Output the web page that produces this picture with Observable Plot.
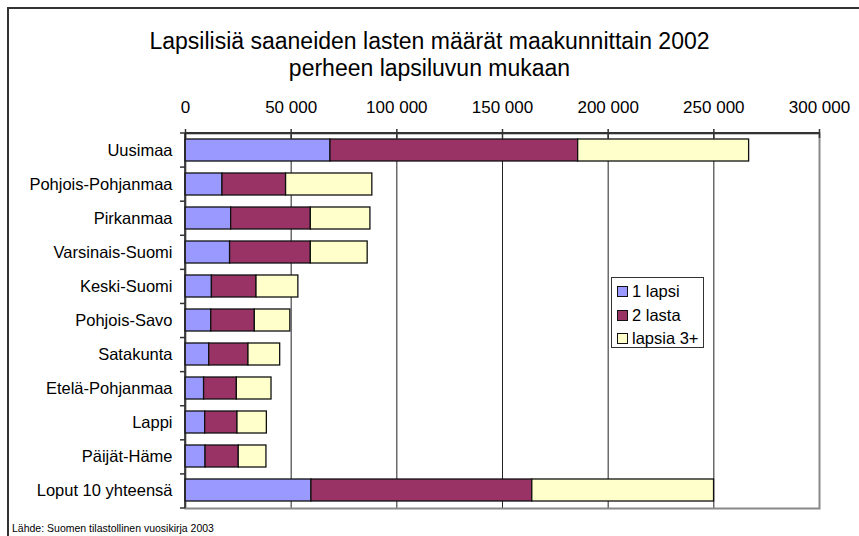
<!DOCTYPE html>
<html>
<head>
<meta charset="utf-8">
<script src="https://cdn.jsdelivr.net/npm/d3@7"></script>
<script src="https://cdn.jsdelivr.net/npm/@observablehq/plot@0.6"></script>
<style>
  html, body { margin: 0; padding: 0; background: #fff; }
  body { width: 859px; height: 536px; position: relative; overflow: hidden; font-family: "Liberation Sans", Arial, sans-serif; }
  #frame { position: absolute; left: 7px; top: 7px; width: 900px; height: 600px; border: 2px solid #333; box-sizing: border-box; }
  #title { position: absolute; left: 0; top: 28px; width: 859px; text-align: center; font-size: 23px; line-height: 27px; color: #000; }
  #chart { position: absolute; left: 0; top: 85px; }
  #legend { position: absolute; left: 611px; top: 277px; width: 93px; height: 71px; box-sizing: border-box; border: 1px solid #333; background: #fff; padding-top: 2px; }
  .item { height: 23.5px; display: flex; align-items: center; font-size: 16.5px; color: #000; }
  .sw { width: 9px; height: 9px; border: 1px solid #111; margin-left: 5px; margin-right: 4px; }
  #caption { position: absolute; left: 12px; top: 522px; font-size: 10.5px; color: #000; }
</style>
</head>
<body>
<div id="frame"></div>
<div id="title">Lapsilisiä saaneiden lasten määrät maakunnittain 2002<br>perheen lapsiluvun mukaan</div>
<div id="chart"></div>
<div id="legend"></div>
<div id="caption">Lähde: Suomen tilastollinen vuosikirja 2003</div>
<script>
const categories = ["Uusimaa", "Pohjois-Pohjanmaa", "Pirkanmaa", "Varsinais-Suomi", "Keski-Suomi", "Pohjois-Savo", "Satakunta", "Etelä-Pohjanmaa", "Lappi", "Päijät-Häme", "Loput 10 yhteensä"];
const series = ["1 lapsi", "2 lasta", "lapsia 3+"];
const yksiLapsi = [68600, 17500, 21600, 21100, 12500, 12200, 11200, 8800, 9300, 9500, 59600];
const kaksiLasta = [117200, 30100, 37700, 38200, 21100, 20600, 18600, 15500, 15300, 15700, 104500];
const kolmePlus = [80900, 40800, 28200, 26900, 19800, 16800, 15000, 16400, 13900, 13100, 86000];
const colors = ["#9999ff", "#993366", "#ffffcc"];
const xTicks = [0, 50000, 100000, 150000, 200000, 250000, 300000];

const valuesBySeries = [yksiLapsi, kaksiLasta, kolmePlus];
const data = categories.flatMap((c, i) => series.map((s, j) => ({category: c, series: s, value: valuesBySeries[j][i]})));
const fmt = d => d3.format(",")(d).replace(/,/g, " ");

const axisLines = (index, scales, values, dims) => {
  const {width, height, marginTop, marginLeft, marginRight, marginBottom} = dims;
  const g = d3.create("svg:g");
  const h = height - marginTop - marginBottom;
  const n = categories.length;
  g.append("line").attr("x1", marginLeft).attr("x2", width - marginRight).attr("y1", marginTop).attr("y2", marginTop).attr("stroke", "#333").attr("stroke-width", 2);
  g.append("line").attr("x1", marginLeft).attr("x2", marginLeft).attr("y1", marginTop).attr("y2", height - marginBottom).attr("stroke", "#222").attr("stroke-width", 1.5);
  for (let i = 0; i <= n; i++) {
    const y = marginTop + i * h / n;
    g.append("line").attr("x1", marginLeft - 5).attr("x2", marginLeft).attr("y1", y).attr("y2", y).attr("stroke", "#333").attr("stroke-width", 1.5);
  }
  return g.node();
};

const chart = Plot.plot({
  width: 859,
  height: 433,
  marginLeft: 185,
  marginRight: 40,
  marginTop: 48,
  marginBottom: 10,
  style: {fontFamily: "'Liberation Sans', Arial, sans-serif", color: "#000", background: "transparent"},
  x: {domain: [0, 300000], axis: null, label: null},
  y: {domain: categories, paddingInner: 0.35, paddingOuter: 0.175, axis: null, label: null},
  color: {domain: series, range: colors},
  marks: [
    Plot.gridX(xTicks.slice(1, -1), {stroke: "#222", strokeOpacity: 1, strokeWidth: 1}),
    Plot.frame({stroke: "#888", strokeWidth: 2}),
    Plot.barX(data, Plot.stackX({x: "value", y: "category", fill: "series", stroke: "#111", strokeWidth: 1.3})),
    Plot.axisX(xTicks, {anchor: "top", label: null, tickSize: 9, dy: 4, tickPadding: 16, tickFormat: fmt, fontSize: 17, stroke: "#333", strokeWidth: 1.5}),
    Plot.axisY({anchor: "left", label: null, tickSize: 0, tickPadding: 13, fontSize: 16.5}),
    axisLines
  ]
});
document.getElementById("chart").appendChild(chart);

const legend = document.getElementById("legend");
series.forEach((s, i) => {
  const row = document.createElement("div");
  row.className = "item";
  const sw = document.createElement("span");
  sw.className = "sw";
  sw.style.background = colors[i];
  row.appendChild(sw);
  row.appendChild(document.createTextNode(s));
  legend.appendChild(row);
});
</script>
</body>
</html>
